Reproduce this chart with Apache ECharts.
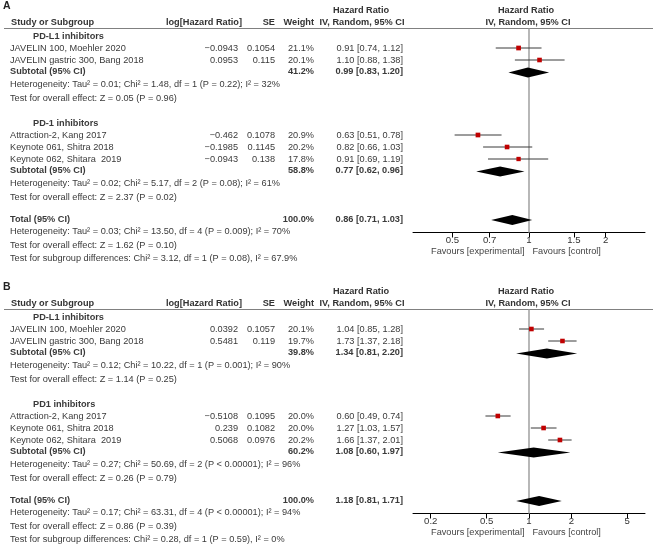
<!DOCTYPE html>
<html><head><meta charset="utf-8">
<script src="https://cdn.jsdelivr.net/npm/echarts@6/dist/echarts.min.js"></script>
<style>html,body{margin:0;padding:0;background:#fff}#c{width:654px;height:545px}</style>
</head><body><div id="c"></div>
<script>
// ================= DATA =================
const panelLabels = ['A', 'B'];
const studyNames = ['JAVELIN 100, Moehler 2020', 'JAVELIN gastric 300, Bang 2018', 'Attraction-2, Kang 2017', 'Keynote 061, Shitra 2018', 'Keynote 062, Shitara  2019'];
const studyGroup = [0, 0, 1, 1, 1];

// Panel A
const subgroupNamesA = ['PD-L1 inhibitors', 'PD-1 inhibitors'];
const logHrA = [-0.0943, 0.0953, -0.462, -0.1985, -0.0943];
const seA = [0.1054, 0.115, 0.1078, 0.1145, 0.138];
const weightA = [21.1, 20.1, 20.9, 20.2, 17.8];
const hrA = [0.91, 1.10, 0.63, 0.82, 0.91];
const hrLowA = [0.74, 0.88, 0.51, 0.66, 0.69];
const hrHighA = [1.12, 1.38, 0.78, 1.03, 1.19];
const subHrA = [0.99, 0.77];
const subLowA = [0.83, 0.62];
const subHighA = [1.20, 0.96];
const subWeightA = [41.2, 58.8];
const subHetA = ['Heterogeneity: Tau\u00b2 = 0.01; Chi\u00b2 = 1.48, df = 1 (P = 0.22); I\u00b2 = 32%',
                 'Heterogeneity: Tau\u00b2 = 0.02; Chi\u00b2 = 5.17, df = 2 (P = 0.08); I\u00b2 = 61%'];
const subTestA = ['Test for overall effect: Z = 0.05 (P = 0.96)', 'Test for overall effect: Z = 2.37 (P = 0.02)'];
const totalHrA = [0.86, 0.71, 1.03];
const totalWeightA = 100.0;
const totalTextA = ['Heterogeneity: Tau\u00b2 = 0.03; Chi\u00b2 = 13.50, df = 4 (P = 0.009); I\u00b2 = 70%',
                    'Test for overall effect: Z = 1.62 (P = 0.10)',
                    'Test for subgroup differences: Chi\u00b2 = 3.12, df = 1 (P = 0.08), I\u00b2 = 67.9%'];
const ticksA = [0.5, 0.7, 1, 1.5, 2];

// Panel B
const subgroupNamesB = ['PD-L1 inhibitors', 'PD1 inhibitors'];
const logHrB = [0.0392, 0.5481, -0.5108, 0.239, 0.5068];
const seB = [0.1057, 0.119, 0.1095, 0.1082, 0.0976];
const weightB = [20.1, 19.7, 20.0, 20.0, 20.2];
const hrB = [1.04, 1.73, 0.60, 1.27, 1.66];
const hrLowB = [0.85, 1.37, 0.49, 1.03, 1.37];
const hrHighB = [1.28, 2.18, 0.74, 1.57, 2.01];
const subHrB = [1.34, 1.08];
const subLowB = [0.81, 0.60];
const subHighB = [2.20, 1.97];
const subWeightB = [39.8, 60.2];
const subHetB = ['Heterogeneity: Tau\u00b2 = 0.12; Chi\u00b2 = 10.22, df = 1 (P = 0.001); I\u00b2 = 90%',
                 'Heterogeneity: Tau\u00b2 = 0.27; Chi\u00b2 = 50.69, df = 2 (P < 0.00001); I\u00b2 = 96%'];
const subTestB = ['Test for overall effect: Z = 1.14 (P = 0.25)', 'Test for overall effect: Z = 0.26 (P = 0.79)'];
const totalHrB = [1.18, 0.81, 1.71];
const totalWeightB = 100.0;
const totalTextB = ['Heterogeneity: Tau\u00b2 = 0.17; Chi\u00b2 = 63.31, df = 4 (P < 0.00001); I\u00b2 = 94%',
                    'Test for overall effect: Z = 0.86 (P = 0.39)',
                    'Test for subgroup differences: Chi\u00b2 = 0.28, df = 1 (P = 0.59), I\u00b2 = 0%'];
const ticksB = [0.2, 0.5, 1, 2, 5];

const headerStudy = 'Study or Subgroup';
const headerLogHr = 'log[Hazard Ratio]';
const headerSe = 'SE';
const headerWeight = 'Weight';
const headerHr = 'Hazard Ratio';
const headerMethod = 'IV, Random, 95% CI';
const labelSubtotal = 'Subtotal (95% CI)';
const labelTotal = 'Total (95% CI)';
const favoursLeft = 'Favours [experimental]';
const favoursRight = 'Favours [control]';

// ================= LAYOUT / STYLE =================
const PANEL_TOP = [28.5, 309.5];
const PLOT_H = 204;
const PLOT_LEFT = 413, PLOT_W = 232;
const LN_HALF_RANGE = [1.05, 1.9];
const L = {first: 7.5, study: 12, sub: 11.5, het: 13, test: 13.5, nextGroup: 25, total: 22, totHet: 12.5, totTest: 13.5, diff: 13};
const COL = {name: 10, group: 33, logHr: 238, se: 275, weight: 314, hr: 403};
const FONT_FAMILY = '"Liberation Sans", Arial, sans-serif';
const FS = 9.2;
const F_N = FS + 'px ' + FONT_FAMILY;
const F_B = 'bold ' + FS + 'px ' + FONT_FAMILY;
const TXT = '#3a3a3a';
const SQUARE = '#c00000';

const panels = [
  {label: panelLabels[0], groups: subgroupNamesA, logHr: logHrA, se: seA, weight: weightA, hr: hrA, lo: hrLowA, hi: hrHighA,
   subHr: subHrA, subLo: subLowA, subHi: subHighA, subW: subWeightA, subHet: subHetA, subTest: subTestA,
   total: totalHrA, totalW: totalWeightA, totalText: totalTextA, ticks: ticksA},
  {label: panelLabels[1], groups: subgroupNamesB, logHr: logHrB, se: seB, weight: weightB, hr: hrB, lo: hrLowB, hi: hrHighB,
   subHr: subHrB, subLo: subLowB, subHi: subHighB, subW: subWeightB, subHet: subHetB, subTest: subTestB,
   total: totalHrB, totalW: totalWeightB, totalText: totalTextB, ticks: ticksB}
];

function fmtNum(v) { return (v < 0 ? '\u2212' : '') + String(Math.abs(v)); }
function fmtHr(h, l, u) { return h.toFixed(2) + ' [' + l.toFixed(2) + ', ' + u.toFixed(2) + ']'; }
function fmtW(w) { return w.toFixed(1) + '%'; }

function buildRows(P) {
  const rows = []; let y = L.first;
  P.groups.forEach((g, gi) => {
    if (gi > 0) y += L.nextGroup;
    rows.push({kind: 'group', y, text: g});
    studyGroup.forEach((sg, si) => { if (sg === gi) { y += L.study; rows.push({kind: 'study', y, i: si}); } });
    y += L.sub; rows.push({kind: 'sub', y, g: gi});
    y += L.het; rows.push({kind: 'text', y, text: P.subHet[gi]});
    y += L.test; rows.push({kind: 'text', y, text: P.subTest[gi]});
  });
  y += L.total; rows.push({kind: 'total', y});
  y += L.totHet; rows.push({kind: 'text', y, text: P.totalText[0]});
  y += L.totTest; rows.push({kind: 'text', y, text: P.totalText[1]});
  y += L.diff; rows.push({kind: 'text', y, text: P.totalText[2]});
  return rows;
}

function txt(text, x, y, font, align) {
  return {type: 'text', style: {text, x, y, fill: TXT, font, align: align || 'left', verticalAlign: 'middle'}};
}

const grids = [], xAxes = [], yAxes = [], series = [], graphics = [];

panels.forEach((P, p) => {
  const top = PANEL_TOP[p];
  const rows = buildRows(P);
  grids.push({left: PLOT_LEFT, width: PLOT_W, top: top, height: PLOT_H, containLabel: false});
  const tickLn = P.ticks.map(t => Math.log(t));
  xAxes.push({
    gridIndex: p, type: 'value', position: 'bottom', min: -LN_HALF_RANGE[p], max: LN_HALF_RANGE[p],
    axisLine: {show: true, onZero: false, lineStyle: {color: '#000', width: 1}},
    axisTick: {show: true, length: 5, customValues: tickLn, lineStyle: {color: '#000'}},
    axisLabel: {show: true, customValues: tickLn, margin: 3, color: '#333', fontSize: 9.6, fontFamily: FONT_FAMILY,
      formatter: v => { const t = P.ticks.find(tt => Math.abs(Math.log(tt) - v) < 1e-6); return t === undefined ? '' : String(t); }},
    splitLine: {show: false}
  });
  yAxes.push({gridIndex: p, type: 'value', inverse: true, min: 0, max: PLOT_H, show: false});

  // reference line at HR = 1 and favours labels
  series.push({
    type: 'custom', xAxisIndex: p, yAxisIndex: p, clip: false, silent: true, z: 1,
    data: [[0, 0]],
    renderItem: (params, api) => {
      const cs = params.coordSys;
      const x = api.coord([0, 0])[0];
      const yb = cs.y + cs.height;
      return {type: 'group', children: [
        {type: 'line', shape: {x1: x, y1: cs.y, x2: x, y2: yb}, style: {stroke: '#a6a6a6', lineWidth: 1.6}},
        {type: 'text', style: {text: favoursLeft, x: x - 4.5, y: yb + 18.5, fill: '#444', font: F_N, align: 'right', verticalAlign: 'middle'}},
        {type: 'text', style: {text: favoursRight, x: x + 3.5, y: yb + 18.5, fill: '#444', font: F_N, align: 'left', verticalAlign: 'middle'}}
      ]};
    }
  });

  // table text
  series.push({
    type: 'custom', xAxisIndex: p, yAxisIndex: p, clip: false, silent: true, z: 3,
    data: rows.map(r => [0, r.y]),
    renderItem: (params, api) => {
      const r = rows[params.dataIndex];
      const y = api.coord([0, api.value(1)])[1];
      const ch = [];
      if (r.kind === 'group') ch.push(txt(r.text, COL.group, y, F_B));
      else if (r.kind === 'study') {
        const i = r.i;
        ch.push(txt(studyNames[i], COL.name, y, F_N));
        ch.push(txt(fmtNum(P.logHr[i]), COL.logHr, y, F_N, 'right'));
        ch.push(txt(String(P.se[i]), COL.se, y, F_N, 'right'));
        ch.push(txt(fmtW(P.weight[i]), COL.weight, y, F_N, 'right'));
        ch.push(txt(fmtHr(P.hr[i], P.lo[i], P.hi[i]), COL.hr, y, F_N, 'right'));
      } else if (r.kind === 'sub') {
        ch.push(txt(labelSubtotal, COL.name, y, F_B));
        ch.push(txt(fmtW(P.subW[r.g]), COL.weight, y, F_B, 'right'));
        ch.push(txt(fmtHr(P.subHr[r.g], P.subLo[r.g], P.subHi[r.g]), COL.hr, y, F_B, 'right'));
      } else if (r.kind === 'total') {
        ch.push(txt(labelTotal, COL.name, y, F_B));
        ch.push(txt(fmtW(P.totalW), COL.weight, y, F_B, 'right'));
        ch.push(txt(fmtHr(P.total[0], P.total[1], P.total[2]), COL.hr, y, F_B, 'right'));
      } else ch.push(txt(r.text, COL.name, y, F_N));
      return {type: 'group', children: ch};
    }
  });

  // study CIs and squares
  const studyRows = rows.filter(r => r.kind === 'study');
  series.push({
    type: 'custom', xAxisIndex: p, yAxisIndex: p, clip: false, silent: true, z: 4,
    data: studyRows.map(r => [P.logHr[r.i], Math.log(P.lo[r.i]), Math.log(P.hi[r.i]), r.y, P.weight[r.i]]),
    renderItem: (params, api) => {
      const yv = api.value(3);
      const c = api.coord([api.value(0), yv]);
      const a = api.coord([api.value(1), yv]);
      const b = api.coord([api.value(2), yv]);
      const s = 4.6 * Math.sqrt(api.value(4) / 20);
      return {type: 'group', children: [
        {type: 'line', shape: {x1: a[0], y1: c[1], x2: b[0], y2: c[1]}, style: {stroke: '#3a3a3a', lineWidth: 1}},
        {type: 'rect', shape: {x: c[0] - s / 2, y: c[1] - s / 2, width: s, height: s}, style: {fill: SQUARE}}
      ]};
    }
  });

  // diamonds (subtotals and total)
  const diaData = [];
  rows.forEach(r => {
    if (r.kind === 'sub') diaData.push([Math.log(P.subHr[r.g]), Math.log(P.subLo[r.g]), Math.log(P.subHi[r.g]), r.y]);
    if (r.kind === 'total') diaData.push([Math.log(P.total[0]), Math.log(P.total[1]), Math.log(P.total[2]), r.y]);
  });
  series.push({
    type: 'custom', xAxisIndex: p, yAxisIndex: p, clip: false, silent: true, z: 5,
    data: diaData,
    renderItem: (params, api) => {
      const yv = api.value(3);
      const c = api.coord([api.value(0), yv]);
      const a = api.coord([api.value(1), yv]);
      const b = api.coord([api.value(2), yv]);
      const h = 5, yc = c[1] + 1;
      return {type: 'polygon', shape: {points: [[a[0], yc], [c[0], yc - h], [b[0], yc], [c[0], yc + h]]}, style: {fill: '#000'}};
    }
  });

  // headers, labels, header rule
  const y1 = top - 18.5, y2 = top - 6;
  const hs = (text, x, y, align) => ({type: 'text', x: 0, y: 0, style: {text, x, y, fill: '#333', font: F_B, align, verticalAlign: 'middle'}});
  graphics.push({type: 'text', style: {text: P.label, x: 3, y: top - 22.5, fill: '#222', font: 'bold 10.5px ' + FONT_FAMILY, align: 'left', verticalAlign: 'middle'}});
  graphics.push(hs(headerStudy, 11, y2, 'left'));
  graphics.push(hs(headerLogHr, 242, y2, 'right'));
  graphics.push(hs(headerSe, COL.se, y2, 'right'));
  graphics.push(hs(headerWeight, COL.weight, y2, 'right'));
  graphics.push(hs(headerHr, 361, y1, 'center'));
  graphics.push(hs(headerMethod, 362, y2, 'center'));
  graphics.push(hs(headerHr, 526, y1, 'center'));
  graphics.push(hs(headerMethod, 528, y2, 'center'));
  graphics.push({type: 'line', shape: {x1: 4, y1: top, x2: 653, y2: top}, style: {stroke: '#808080', lineWidth: 1.2}});
});

const chart = echarts.init(document.getElementById('c'), null, {renderer: 'canvas'});
chart.setOption({
  animation: false,
  backgroundColor: '#fff',
  grid: grids, xAxis: xAxes, yAxis: yAxes, series: series,
  graphic: graphics
});
</script></body></html>
